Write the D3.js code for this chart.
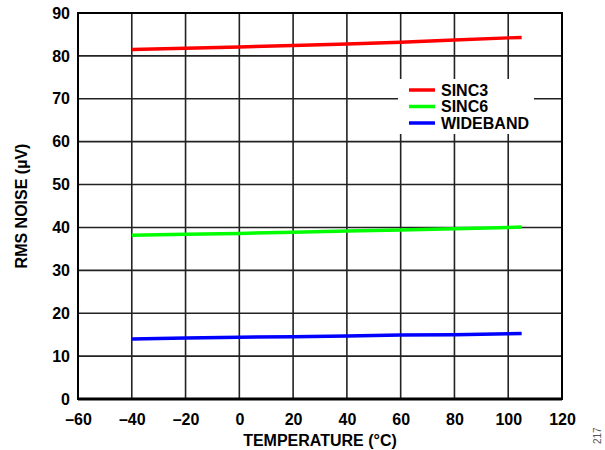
<!DOCTYPE html>
<html>
<head>
<meta charset="utf-8">
<style>
    body { margin: 0; background: #fff; }
    svg text { font-family: "Liberation Sans", Arial, sans-serif; font-weight: bold; }
</style>
</head>
<body>
<svg width="605" height="450"></svg>
<script src="https://d3js.org/d3.v7.min.js"></script>
<script>
    var temps = [-40, -20, 0, 20, 40, 60, 80, 100, 105];
    var sinc3 = [81.5, 81.8, 82.1, 82.4, 82.8, 83.2, 83.7, 84.2, 84.3];
    var sinc6 = [38.2, 38.4, 38.6, 38.9, 39.2, 39.4, 39.7, 40.0, 40.1];
    var wideband = [14.0, 14.2, 14.4, 14.5, 14.7, 14.9, 15.0, 15.2, 15.3];
    var seriesNames = ["SINC3", "SINC6", "WIDEBAND"];
    var seriesColors = ["#ff0000", "#00ff00", "#0000ff"];
    var xTicks = [-60, -40, -20, 0, 20, 40, 60, 80, 100, 120];
    var yTicks = [0, 10, 20, 30, 40, 50, 60, 70, 80, 90];

    var svg = d3.select("svg"),
        margin = {top: 13, right: 43, bottom: 51, left: 78},
        width = 605 - margin.left - margin.right,
        height = 450 - margin.top - margin.bottom,
        g = svg.append("g").attr("transform", "translate(" + margin.left + "," + margin.top + ")");

    var x = d3.scaleLinear().domain([-60, 120]).range([0, width]);
    var y = d3.scaleLinear().domain([0, 90]).range([height, 0]);

    // grid
    g.append("g").selectAll("line").data(xTicks).enter().append("line")
        .attr("x1", function (d) { return x(d); }).attr("x2", function (d) { return x(d); })
        .attr("y1", 0).attr("y2", height)
        .attr("stroke", "#222").attr("stroke-width", 1.6);
    g.append("g").selectAll("line").data(yTicks).enter().append("line")
        .attr("x1", 0).attr("x2", width)
        .attr("y1", function (d) { return y(d); }).attr("y2", function (d) { return y(d); })
        .attr("stroke", "#222").attr("stroke-width", 1.6);

    // frame
    g.append("rect").attr("width", width).attr("height", height)
        .attr("fill", "none").attr("stroke", "#000").attr("stroke-width", 2);
    g.append("line").attr("x1", 0).attr("x2", width).attr("y1", height).attr("y2", height)
        .attr("stroke", "#000").attr("stroke-width", 3);

    // axes labels
    var xAxis = g.append("g").attr("transform", "translate(0," + height + ")")
        .call(d3.axisBottom(x).tickValues(xTicks).tickSize(0).tickPadding(15)
            .tickFormat(function (d) { return d < 0 ? "\u2013" + Math.abs(d) : d; }));
    xAxis.select(".domain").remove();
    xAxis.selectAll("text").attr("font-size", 16).attr("fill", "#000");

    var yAxis = g.append("g")
        .call(d3.axisLeft(y).tickValues(yTicks).tickSize(0).tickPadding(8));
    yAxis.select(".domain").remove();
    yAxis.selectAll("text").attr("font-size", 16).attr("fill", "#000");

    svg.append("text").attr("x", margin.left + width / 2).attr("y", 446)
        .attr("text-anchor", "middle").attr("font-size", 16).text("TEMPERATURE (°C)");
    svg.append("text").attr("transform", "translate(27," + (margin.top + height / 2) + ") rotate(-90)")
        .attr("text-anchor", "middle").attr("font-size", 16).text("RMS NOISE (µV)");
    svg.append("text").attr("transform", "translate(601,444) rotate(-90)")
        .attr("font-size", 10).attr("fill", "#555").style("font-weight", "normal").text("217");

    // lines
    var allSeries = [sinc3, sinc6, wideband];
    var line = d3.line()
        .x(function (d, i) { return x(temps[i]); })
        .y(function (d) { return y(d); });
    g.selectAll(".series").data(allSeries).enter().append("path")
        .attr("d", line).attr("fill", "none")
        .attr("stroke", function (d, i) { return seriesColors[i]; })
        .attr("stroke-width", 3.5);

    // legend
    var lg = svg.append("g");
    lg.append("rect").attr("x", 398).attr("y", 79).attr("width", 136).attr("height", 55).attr("fill", "#fff");
    var items = lg.selectAll(".item").data(seriesNames).enter().append("g")
        .attr("transform", function (d, i) { return "translate(409," + (90 + i * 16.5) + ")"; });
    items.append("line").attr("x1", 0).attr("x2", 26).attr("y1", 0).attr("y2", 0)
        .attr("stroke", function (d, i) { return seriesColors[i]; }).attr("stroke-width", 3.5);
    items.append("text").attr("x", 32).attr("dy", "0.36em").attr("font-size", 16).text(function (d) { return d; });
</script>
</body>
</html>
